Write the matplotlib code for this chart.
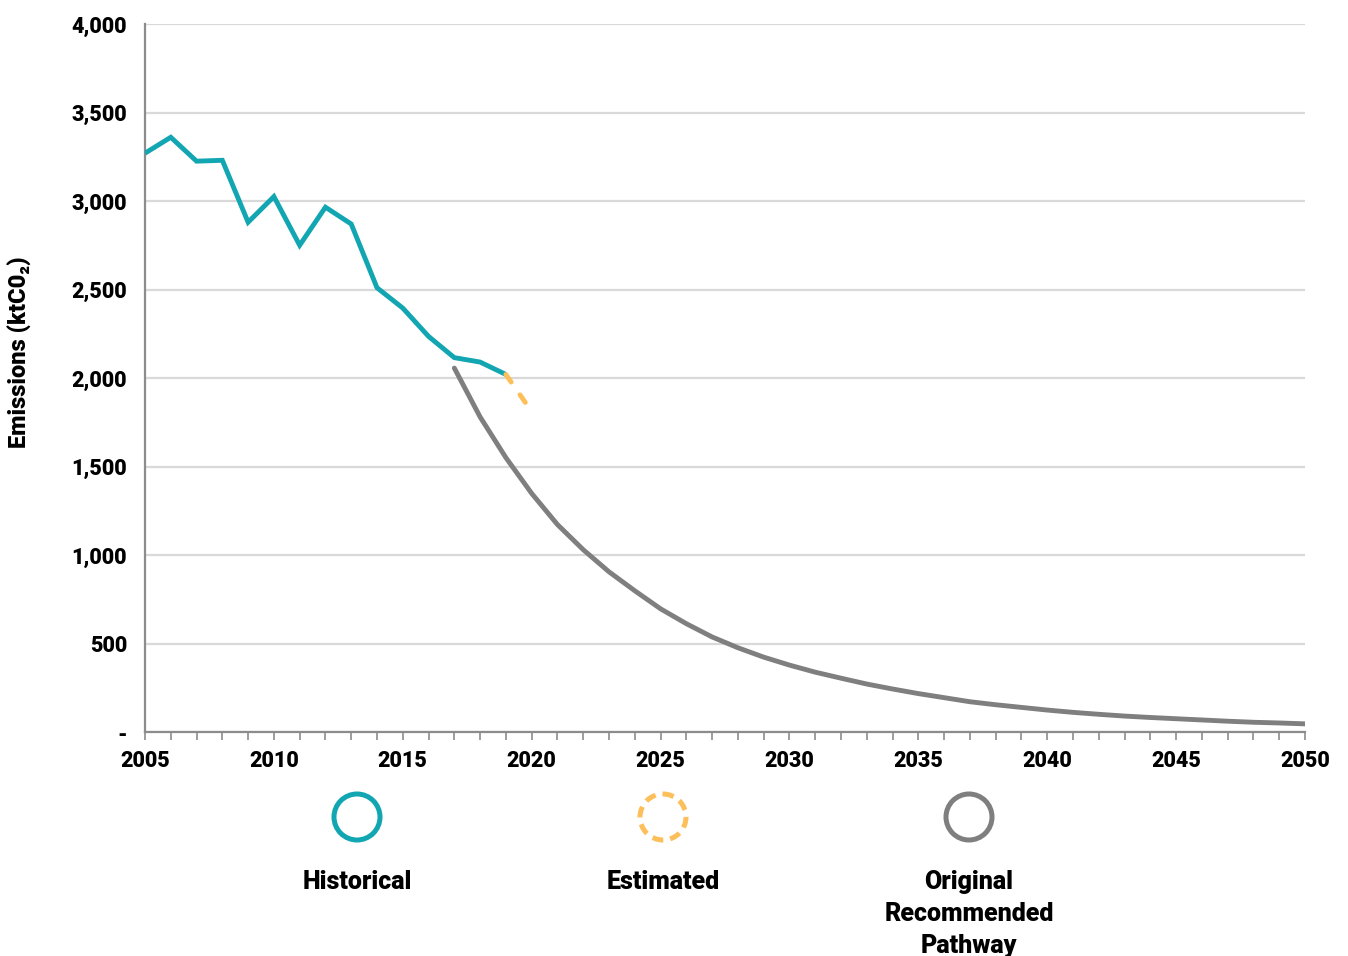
import matplotlib
matplotlib.use("Agg")
import matplotlib.pyplot as plt
from matplotlib.patches import Circle
from matplotlib.ticker import FuncFormatter, MultipleLocator

plt.rcParams['font.family'] = ['Roboto', 'DejaVu Sans']
plt.rcParams['font.weight'] = 'bold'

# emissions, ktCO2
hist_years = list(range(2005, 2020))
hist_values = [3270, 3360, 3225, 3230, 2880, 3025, 2750, 2965, 2870,
               2510, 2395, 2235, 2115, 2090, 2020]

est_years = [2019, 2020]
est_values = [2020, 1810]

path_years = list(range(2017, 2051))
path_values = [2056, 1780, 1550, 1348, 1172, 1030, 905, 798, 696, 612,
               537, 476, 423, 378, 338, 304, 271, 243, 217, 194,
               171, 154, 139, 124, 111, 100, 90, 82, 75, 68,
               61, 55, 51, 46]

legend_labels = ['Historical', 'Estimated', 'Original\nRecommended\nPathway']

TEAL = '#12A6B2'
ORANGE = '#FDBF5A'
GREY = '#7F7F7F'
HEAVY = 900

W, H = 1348, 956
fig = plt.figure(figsize=(W / 100, H / 100), dpi=100)
ax = fig.add_axes([145 / W, 1 - 732 / H, 1160 / W, 708 / H])

ax.plot(hist_years, hist_values, color=TEAL, lw=3.5,
        solid_joinstyle='miter', solid_capstyle='butt', zorder=3)
ax.plot(est_years, est_values, color=ORANGE, lw=3.5,
        linestyle=(0, (1.9, 3.2)), dash_capstyle='round', zorder=4)
ax.plot(path_years, path_values, color=GREY, lw=3.5,
        solid_capstyle='round', zorder=3)

ax.set_xlim(2005, 2050)
ax.set_ylim(0, 4000)
ax.xaxis.set_major_locator(MultipleLocator(5))
ax.xaxis.set_minor_locator(MultipleLocator(1))
ax.yaxis.set_major_locator(MultipleLocator(500))
ax.yaxis.set_major_formatter(FuncFormatter(lambda v, p: '-' if v == 0 else f'{v:,.0f}'))

ax.grid(axis='y', color='#D9D9D9', lw=1.6)
ax.set_axisbelow(True)
for side in ['top', 'right']:
    ax.spines[side].set_visible(False)
for side in ['left', 'bottom']:
    ax.spines[side].set_color('#8C8C8C')
    ax.spines[side].set_linewidth(1.6)

ax.tick_params(axis='y', length=0, pad=13, labelsize=15.5)
ax.tick_params(axis='x', which='both', direction='out', length=6, width=1.2,
               color='#8C8C8C', pad=7, labelsize=15.5)
for lab in ax.get_xticklabels() + ax.get_yticklabels():
    lab.set_fontweight(HEAVY)

ax.set_ylabel('Emissions (ktC0\u2082)', fontsize=17, fontweight=HEAVY)
ax.yaxis.set_label_coords(-0.097, 0.537)

# legend drawn in pixel space below the plot
lax = fig.add_axes([0, 0, 1, 1], zorder=-1)
lax.set_xlim(0, W)
lax.set_ylim(H, 0)
lax.axis('off')

centers = [357, 663, 969]
styles = [(TEAL, 'solid'), (ORANGE, (0, (2.2, 1.4))), (GREY, 'solid')]
for cx, (col, ls), label in zip(centers, styles, legend_labels):
    lax.add_patch(Circle((cx, 817), 23, fill=False, edgecolor=col, lw=3.6,
                         linestyle=ls, capstyle='butt'))
    lax.text(cx, 870, label, ha='center', va='top', fontsize=18,
             fontweight=HEAVY, linespacing=1.42)

fig.savefig('out.png', dpi=100)
